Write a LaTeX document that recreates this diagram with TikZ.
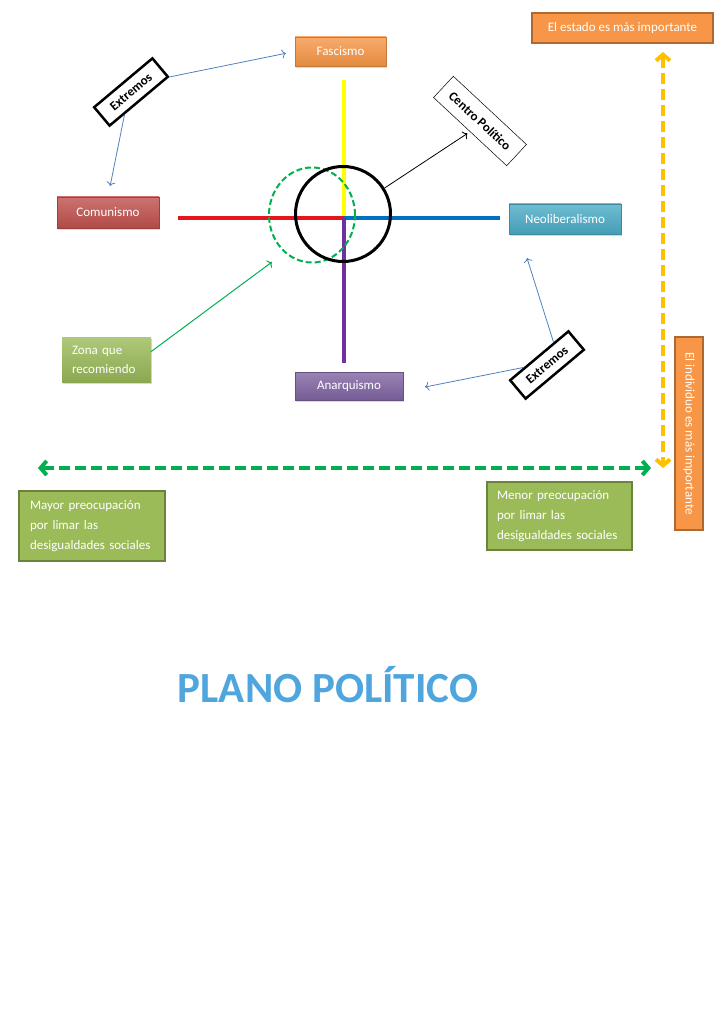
\documentclass[tikz,border=0pt]{standalone}
\usepackage{fontspec}
\setmainfont{Carlito}
\usetikzlibrary{calc,shapes.geometric,arrows.meta,shadows}

\definecolor{naranja}{HTML}{F79646}
\definecolor{rojo}{HTML}{C0504D}
\definecolor{aqua}{HTML}{4BACC6}
\definecolor{morado}{HTML}{8064A2}
\definecolor{verde}{HTML}{9BBB59}
\definecolor{azul}{HTML}{4F81BD}
\definecolor{verdeosc}{HTML}{00B050}
\definecolor{oro}{HTML}{FFC000}
\definecolor{ejerojo}{HTML}{E8141B}
\definecolor{ejeazul}{HTML}{0070C0}
\definecolor{ejeamarillo}{HTML}{FFFF00}
\definecolor{ejemorado}{HTML}{7030A0}
\definecolor{titulo}{HTML}{4FA6DE}

\tikzset{
	caja/.style={draw=#1!80!black, line width=0.6pt, top color=#1!80!white, bottom color=#1!92!black, text=white, font=\fontsize{13}{16}\selectfont, drop shadow={opacity=0.3, shadow xshift=1.2pt, shadow yshift=-1.6pt}},
	nota/.style={draw=#1!70!black, line width=2pt, fill=#1, text=white, font=\fontsize{13}{20}\selectfont},
	extremo/.style={draw, line width=2.5pt, fill=white, font=\bfseries\fontsize{13}{15}\selectfont, rotate=40, minimum width=76pt, minimum height=24pt, inner sep=0pt},
	eje/.style={line width=4pt},
	punta/.style={-{To[length=4pt,width=9pt]}},
	flechafina/.style={azul, line width=0.8pt, punta},
	flechadoble/.style={line width=4pt, dash pattern=on 11pt off 5pt, arrows={Straight Barb[length=6pt,width=14pt]-Straight Barb[length=6pt,width=14pt]}}
}

\begin{document}
\begin{tikzpicture}[x=1pt,y=-1pt]
		%%%%% START %%%%%
		
		\useasboundingbox (0,0) rectangle (720,1024);
		
		\node[caja=naranja, minimum width=91pt, minimum height=29pt] (fascismo) at (340.5,51.5) {Fascismo};
		\node[caja=rojo, minimum width=102pt, minimum height=31pt] (comunismo) at (108,212.5) {Comunismo};
		\node[caja=aqua, minimum width=112pt, minimum height=30pt] (neolib) at (565,219) {Neoliberalismo};
		\node[caja=morado, minimum width=108pt, minimum height=28pt] (anarquismo) at (349,386) {Anarquismo};
		
		\coordinate (o) at (344,218);
		\draw[eje, ejeamarillo, shorten >=14pt] (o) -- (o |- fascismo.south);
		\draw[eje, ejerojo, shorten >=19pt] (o) -- (o -| comunismo.east);
		\draw[eje, ejeazul, shorten >=9pt] (o) -- (o -| neolib.west);
		\draw[eje, ejemorado, shorten >=9pt] (o) -- (o |- anarquismo.north);
		
		\node[ellipse, draw=verdeosc, line width=2pt, dash pattern=on 6pt off 3pt, minimum width=86pt, minimum height=95pt] (zonacirc) at (312,215) {};
		\node[circle, draw, line width=3pt, minimum size=95pt] (centro) at (343,214) {};
		
		\node[draw, line width=0.5pt, fill=white, rotate=-43, minimum width=100pt, minimum height=29pt, font=\bfseries\fontsize{13}{15}\selectfont] (centrotxt) at (480,121) {Centro Político};
		\draw[line width=0.8pt, punta, shorten >=3pt] (centro.32) -- (centrotxt.south);
		
		\node[extremo] (extremosA) at (131,92) {Extremos};
		\draw[flechafina, shorten >=9pt] (extremosA.south east) -- (fascismo.west);
		\draw[flechafina, shorten >=11pt] ($(extremosA.south west)!0.5!(extremosA.south)$) -- (comunismo.north);
		
		\node[extremo] (extremosB) at (547,365) {Extremos};
		\coordinate (puntaneo) at (527,258);
		\coordinate (puntaanar) at (425,387);
		\draw[flechafina] ($(extremosB.north west)!0.75!(extremosB.north east)$) -- (puntaneo);
		\draw[flechafina] ($(extremosB.north west)!0.25!(extremosB.north east)$) -- (puntaanar);
		
		\node[nota=verde, line width=0pt, draw=none, top color=verde!80!white, bottom color=verde!90!black, text width=69pt, inner xsep=10pt, minimum height=45pt, align=left, font=\fontsize{13}{19}\selectfont, drop shadow={opacity=0.3, shadow xshift=1.2pt, shadow yshift=-1.6pt}] (zona) at (106.5,359.5) {Zona que\\recomiendo};
		\coordinate (puntazona) at (272,262);
		\draw[verdeosc, line width=1pt, punta] (zona.10) -- (puntazona);
		
		\node[nota=naranja, minimum width=181pt, minimum height=30pt] (estado) at (622.5,28) {El estado es más importante};
		\node[nota=naranja, minimum width=193pt, minimum height=28pt, rotate=-90] (individuo) at (689,433.5) {El individuo es más importante};
		
		\coordinate (arriba) at (663,52);
		\coordinate (abajo) at (663,468);
		\draw[flechadoble, oro] (arriba) -- (abajo);
		
		\coordinate (izq) at (38,468);
		\coordinate (der) at (651,468);
		\draw[flechadoble, verdeosc] (izq) -- (der);
		
		\node[nota=verde, text width=124pt, inner xsep=11pt, minimum height=70pt, align=left] (mayor) at (92,526) {Mayor preocupación\\por limar las\\desigualdades sociales};
		\node[nota=verde, text width=125pt, inner xsep=10pt, minimum height=68pt, align=left] (menor) at (559.5,516) {Menor preocupación\\por limar las\\desigualdades sociales};
		
		\node[anchor=base, text=titulo, font=\bfseries\fontsize{43}{48}\selectfont, inner sep=0pt] (titulo) at (328,702) {PLANO POLÍTICO};
		
		%%%%% END %%%%%
\end{tikzpicture}
\end{document}
